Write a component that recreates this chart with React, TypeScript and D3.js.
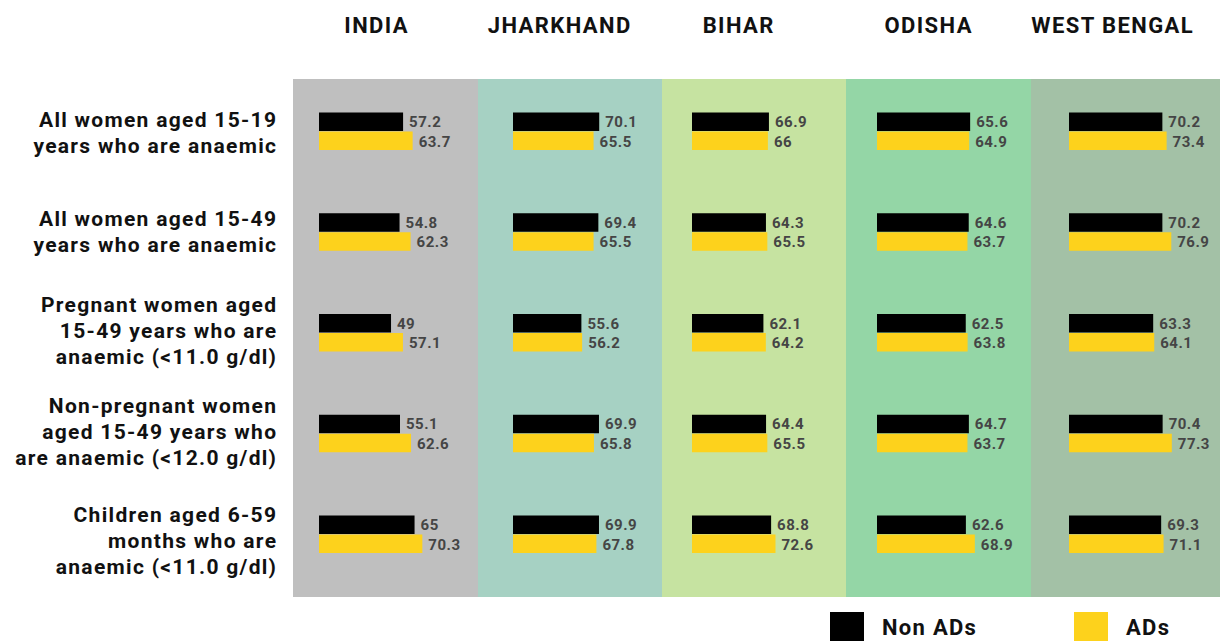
import React from "react";
import * as d3 from "d3";

// Regions (columns) and indicators (rows)
const regions = ["INDIA", "JHARKHAND", "BIHAR", "ODISHA", "WEST BENGAL"];
const indicators = [
  ["All women aged 15-19", "years who are anaemic"],
  ["All women aged 15-49", "years who are anaemic"],
  ["Pregnant women aged", "15-49 years who are", "anaemic (<11.0 g/dl)"],
  ["Non-pregnant women", "aged 15-49 years who", "are anaemic (<12.0 g/dl)"],
  ["Children aged 6-59", "months who are", "anaemic (<11.0 g/dl)"],
];

// Anaemia prevalence (%) per region, one entry per indicator
const nonADs = [
  [57.2, 54.8, 49, 55.1, 65],
  [70.1, 69.4, 55.6, 69.9, 69.9],
  [66.9, 64.3, 62.1, 64.4, 68.8],
  [65.6, 64.6, 62.5, 64.7, 62.6],
  [70.2, 70.2, 63.3, 70.4, 69.3],
];
const ADs = [
  [63.7, 62.3, 57.1, 62.6, 70.3],
  [65.5, 65.5, 56.2, 65.8, 67.8],
  [66, 65.5, 64.2, 65.5, 72.6],
  [64.9, 63.7, 63.8, 63.7, 68.9],
  [73.4, 76.9, 64.1, 77.3, 71.1],
];

const legendLabels = ["Non ADs", "ADs"];

// Styling
const W = 1220;
const H = 641;
const panelColors = ["#bfbfbf", "#a6d1c3", "#c6e3a1", "#94d6a6", "#a3c1a6"];
const panelEdges = [293, 478, 662, 846, 1031, 1220];
const barStart = [319, 513, 692, 877, 1069];
const barSpan = [147, 123, 115, 142, 133]; // pixel length for 100%
const panelTop = 79;
const panelBottom = 597;
const headerX = [376, 559, 738, 928, 1112];
const labelCenter = [132, 231, 330, 431, 540];
const BLACK = "#000000";
const YELLOW = "#fdd21c";
const FONT = "Roboto, 'Noto Sans', sans-serif";
const barH = 18.5;
const lineH = 26;

export default function App() {
  const rowY = d3
    .scalePoint<number>()
    .domain(d3.range(indicators.length))
    .range([131, 534]);

  return (
    <svg
      width={W}
      height={H}
      style={{ position: "absolute", left: 0, top: 0, background: "#fff" }}
      fontFamily={FONT}
    >
      {regions.map((r, i) => (
        <rect
          key={"bg" + r}
          x={panelEdges[i]}
          y={panelTop}
          width={panelEdges[i + 1] - panelEdges[i]}
          height={panelBottom - panelTop}
          fill={panelColors[i]}
        />
      ))}

      {regions.map((r, i) => (
        <text
          key={"h" + r}
          x={headerX[i] + 0.7}
          y={32.5}
          textAnchor="middle"
          fontSize={22}
          fontWeight={700}
          letterSpacing={1.4}
          fill="#111"
        >
          {r}
        </text>
      ))}

      {indicators.map((lines, k) => {
        const c = labelCenter[k];
        return (
          <text
            key={"lbl" + k}
            textAnchor="end"
            fontSize={21}
            fontWeight={700}
            letterSpacing={1.3}
            fill="#111"
          >
            {lines.map((ln, j) => (
              <tspan
                key={j}
                x={277.3}
                y={c + (j - (lines.length - 1) / 2) * lineH + 7.5}
              >
                {ln}
              </tspan>
            ))}
          </text>
        );
      })}

      {regions.map((r, i) => {
        const x = d3
          .scaleLinear()
          .domain([0, 100])
          .range([barStart[i], barStart[i] + barSpan[i]]);
        return (
          <g key={"bars" + r}>
            {indicators.map((_, k) => {
              const cy = rowY(k)!;
              const vN = nonADs[i][k];
              const vA = ADs[i][k];
              return (
                <g key={k}>
                  <rect
                    x={x(0)}
                    y={cy - barH}
                    width={x(vN) - x(0)}
                    height={barH}
                    fill={BLACK}
                  />
                  <rect
                    x={x(0)}
                    y={cy + 0.5}
                    width={x(vA) - x(0)}
                    height={barH}
                    fill={YELLOW}
                  />
                  <text
                    x={x(vN) + 6}
                    y={cy - barH / 2}
                    dy="0.36em"
                    fontSize={15}
                    fontWeight={700}
                    letterSpacing={0.5}
                    fill="#454545"
                  >
                    {vN}
                  </text>
                  <text
                    x={x(vA) + 6}
                    y={cy + barH / 2 + 1}
                    dy="0.36em"
                    fontSize={15}
                    fontWeight={700}
                    letterSpacing={0.5}
                    fill="#454545"
                  >
                    {vA}
                  </text>
                </g>
              );
            })}
          </g>
        );
      })}

      {/* Legend */}
      <rect x={830} y={612} width={34} height={29} fill={BLACK} />
      <text x={882} y={635} fontSize={22} fontWeight={700} letterSpacing={1.3} fill="#111">
        {legendLabels[0]}
      </text>
      <rect x={1074} y={612} width={34} height={29} fill={YELLOW} />
      <text x={1126} y={635} fontSize={22} fontWeight={700} letterSpacing={1.3} fill="#111">
        {legendLabels[1]}
      </text>
    </svg>
  );
}
